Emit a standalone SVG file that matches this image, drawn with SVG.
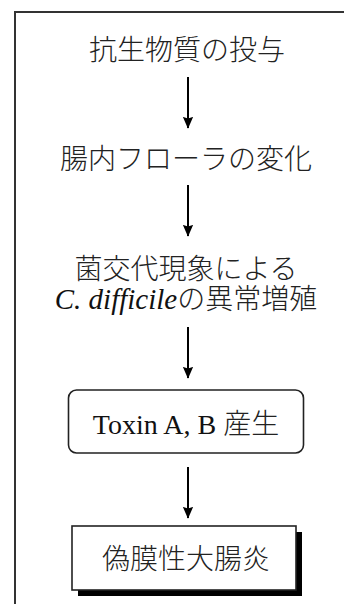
<svg xmlns="http://www.w3.org/2000/svg" width="344" height="604" viewBox="0 0 344 604">
<style>
.jp{font-family:"Noto Sans CJK JP","Noto Sans CJK SC",sans-serif;font-size:28px;font-weight:300;fill:#222;text-anchor:middle}
.lat{font-family:"Liberation Serif",serif}
.conn{stroke:#000;stroke-width:2;fill:none}
.box{fill:#fff;stroke:#222;stroke-width:1.6}
</style>
<defs>
<marker id="ah" markerUnits="userSpaceOnUse" markerWidth="12" markerHeight="14" refX="13" refY="6" orient="auto" viewBox="0 0 14 12">
<path d="M0,0 L14,6 L0,12 L2,6 z" fill="#000"/>
</marker>
</defs>
<rect id="frame" x="15" y="12" width="360" height="620" fill="none" stroke="#333" stroke-width="2"/>
<g id="n1"><text class="jp" x="187" y="60">抗生物質の投与</text></g>
<g id="n2"><text class="jp" x="186" y="169">腸内フローラの変化</text></g>
<g id="n3"><text class="jp" x="186" y="279" font-size="27">菌交代現象による</text><text class="jp" x="186" y="309" font-size="27"><tspan class="lat" font-style="italic" font-weight="400" fill="#111" font-size="29">C. difficile</tspan>の異常増殖</text></g>
<g id="n4"><rect class="box" x="68.5" y="390" width="235" height="63" rx="8"/><text class="jp" x="186" y="434"><tspan class="lat" font-weight="400" fill="#111">Toxin A, B </tspan>産生</text></g>
<g id="n5"><rect x="78" y="532" width="224" height="64" fill="#000"/><rect class="box" x="72" y="526" width="224" height="64"/><text class="jp" x="186" y="569">偽膜性大腸炎</text></g>
<g id="connectors">
<line class="conn" x1="188" y1="77" x2="188" y2="128" marker-end="url(#ah)"/>
<line class="conn" x1="188" y1="185" x2="188" y2="236" marker-end="url(#ah)"/>
<line class="conn" x1="188" y1="327" x2="188" y2="378" marker-end="url(#ah)"/>
<line class="conn" x1="188" y1="467" x2="188" y2="518" marker-end="url(#ah)"/>
</g>
</svg>
